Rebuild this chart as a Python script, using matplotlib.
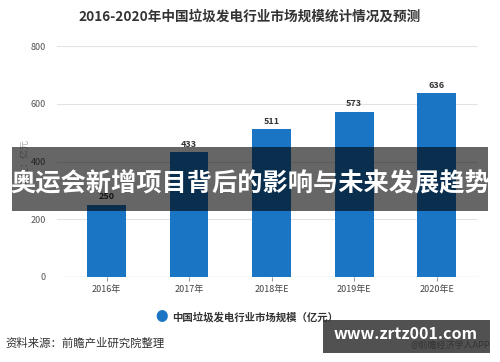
import matplotlib.pyplot as plt
from matplotlib.patches import Rectangle

plt.rcParams['font.family'] = ['Noto Sans CJK SC', 'DejaVu Sans']

# 数据
years = ["2016年", "2017年", "2018年E", "2019年E", "2020年E"]
scale = [250, 433, 511, 573, 636]
yticks = [0, 200, 400, 600, 800]

fig = plt.figure(figsize=(5, 3.62), dpi=100)
ax = fig.add_axes([57 / 500, 1 - 277 / 362, (478 - 57) / 500, (277 - 46) / 362])

bar_color = "#1a75c4"
x = list(range(len(years)))
bars = ax.bar(x, scale, width=0.47, color=bar_color, zorder=3)
for xi, v in zip(x, scale):
    ax.text(xi, v + 12, str(v), ha="center", va="bottom", fontsize=6.5,
            fontweight="bold", color="#333333", zorder=4)

ax.set_xlim(-0.6, 4.5)
ax.set_ylim(0, 800)
ax.set_yticks(yticks)
ax.set_yticklabels([str(t) for t in yticks], fontsize=6.5, color="#555555")
ax.set_xticks(x)
ax.set_xticklabels(years, fontsize=6.5, color="#444444")
ax.tick_params(axis="y", length=0, pad=8)
ax.tick_params(axis="x", length=3, color="#999999", pad=3)
ax.grid(axis="y", color="#e3e3e3", linewidth=0.8, zorder=0)
for s in ["top", "right", "left", "bottom"]:
    ax.spines[s].set_visible(False)
ax.axhline(0, xmin=0.02, xmax=1, color="#bbbbbb", linewidth=0.8, zorder=2)
ax.set_ylabel("单位：亿元", fontsize=6.5, color="#aaaaaa", labelpad=1)

fig.text(0.5, 1 - 17 / 362, "2016-2020年中国垃圾发电行业市场规模统计情况及预测",
         ha="center", va="center", fontsize=9.8, fontweight="bold", color="#333333")

# 图例
fig.text(162 / 500, 1 - 317 / 362, "●", ha="center", va="center",
         fontsize=9, color=bar_color)
fig.text(172 / 500, 1 - 317 / 362, "中国垃圾发电行业市场规模（亿元）", ha="left",
         va="center", fontsize=7.5, fontweight="bold", color="#333333")

fig.text(5 / 500, 1 - 343 / 362, "资料来源：前瞻产业研究院整理", ha="left",
         va="center", fontsize=8.2, color="#333333")
fig.text(490 / 500, 1 - 345 / 362, "@前瞻经济学人APP", ha="right",
         va="center", fontsize=6.5, color="#333333")

# 横幅
fig.patches.append(Rectangle((12 / 500, 1 - 211 / 362), 476 / 500, 64 / 362,
                             transform=fig.transFigure, facecolor="black",
                             alpha=0.6, zorder=10))
fig.text(0.5, 1 - 184 / 362, "奥运会新增项目背后的影响与未来发展趋势", ha="center",
         va="center", fontsize=18.2, fontweight="bold", color="white", zorder=11)

# 网址水印
fig.patches.append(Rectangle((323 / 500, 1 - 353 / 362), 167 / 500, 33 / 362,
                             transform=fig.transFigure, facecolor="#333333",
                             alpha=0.85, zorder=10))
fig.text(406 / 500, 1 - 334 / 362, "www.zrtz001.com", ha="center", va="center",
         fontsize=11.5, fontweight="bold", color="white", zorder=11)

fig.savefig("out.png", dpi=100)
